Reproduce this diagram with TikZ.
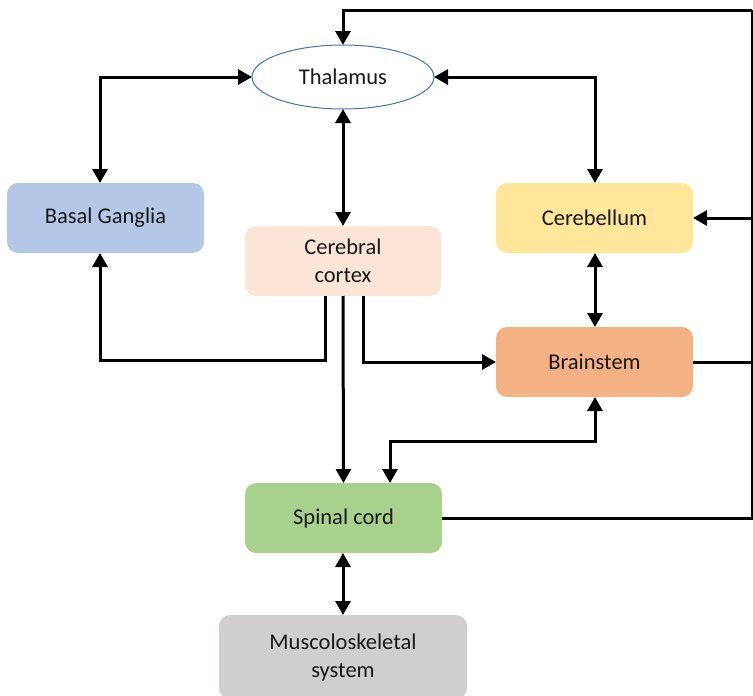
\documentclass[tikz,border=0pt]{standalone}
\usepackage{fontspec}
\setmainfont{Carlito}
\usetikzlibrary{arrows.meta,shapes.geometric}
\definecolor{bgblue}{HTML}{B4C7E7}
\definecolor{ccpeach}{HTML}{FBE5D6}
\definecolor{cbyellow}{HTML}{FFE699}
\definecolor{bsorange}{HTML}{F4B183}
\definecolor{scgreen}{HTML}{A9D18E}
\definecolor{msgrey}{HTML}{D0CECE}
\definecolor{thalblue}{HTML}{4472C4}
\tikzset{
  box/.style={rectangle, rounded corners=11pt, draw=none, inner sep=0pt, outer sep=0pt,
    minimum width=197pt, minimum height=70pt, align=center,
    font=\fontsize{22.5}{28}\selectfont, text=black!90},
  conn/.style={line width=3pt, draw=black},
  tip/.style={-{Triangle[length=14pt,width=15pt]}},
  tips/.style={{Triangle[length=14pt,width=15pt]}-{Triangle[length=14pt,width=15pt]}}
}
\begin{document}
\begin{tikzpicture}[x=1pt,y=-1pt]
\useasboundingbox (0,0) rectangle (753,696);
% nodes
\node[ellipse, draw=thalblue, line width=1pt, fill=white, minimum width=182pt, minimum height=64pt,
  inner sep=0pt, outer sep=0pt, font=\fontsize{22.5}{28}\selectfont, text=black!90] (thal) at (343,77) {Thalamus};
\node[box, fill=bgblue] (bg) at (105.5,218) {Basal Ganglia};
\node[box, fill=ccpeach, minimum width=196pt] (cc) at (343,261) {Cerebral\\cortex};
\node[box, fill=cbyellow] (cb) at (594.5,218) {Cerebellum};
\node[box, fill=bsorange] (bs) at (594.5,362) {Brainstem};
\node[box, fill=scgreen] (sc) at (343.5,518) {Spinal cord};
\node[box, fill=msgrey, minimum width=248pt, minimum height=84pt] (ms) at (343,657) {Muscoloskeletal\\system};
% corners
\coordinate (rtop) at (752,10);
\coordinate (rcb) at (752,218);
\coordinate (rbs) at (752,362);
\coordinate (rsc) at (752,518);
% connectors
\draw[conn,tips] (thal.west) -| (bg.north -| 100,0);
\draw[conn,tips] (thal.south) -- (cc.north);
\draw[conn,tips] (thal.east) -| (cb.north -| 595,0);
\draw[conn,tips] (cb.south -| 595,0) -- (bs.north -| 595,0);
\draw[conn,tip] (cc.south -| 325,0) |- (100,360) -- (bg.south -| 100,0);
\draw[conn,tip] (cc.south) -- (sc.north);
\draw[conn,tip] (cc.south -| 363,0) |- (bs.west);
\draw[conn,tips] (bs.south -| 595,0) |- (390,441) -- (sc.north -| 390,0);
\draw[conn,tips] (sc.south -| 343,0) -- (ms.north);
\draw[conn] (sc.east) -- (rsc) -- (rtop);
\draw[conn,tip] (rtop) -| (thal.north);
\draw[conn] (bs.east) -- (rbs);
\draw[conn,tip] (rcb) -- (cb.east);
\end{tikzpicture}
\end{document}
